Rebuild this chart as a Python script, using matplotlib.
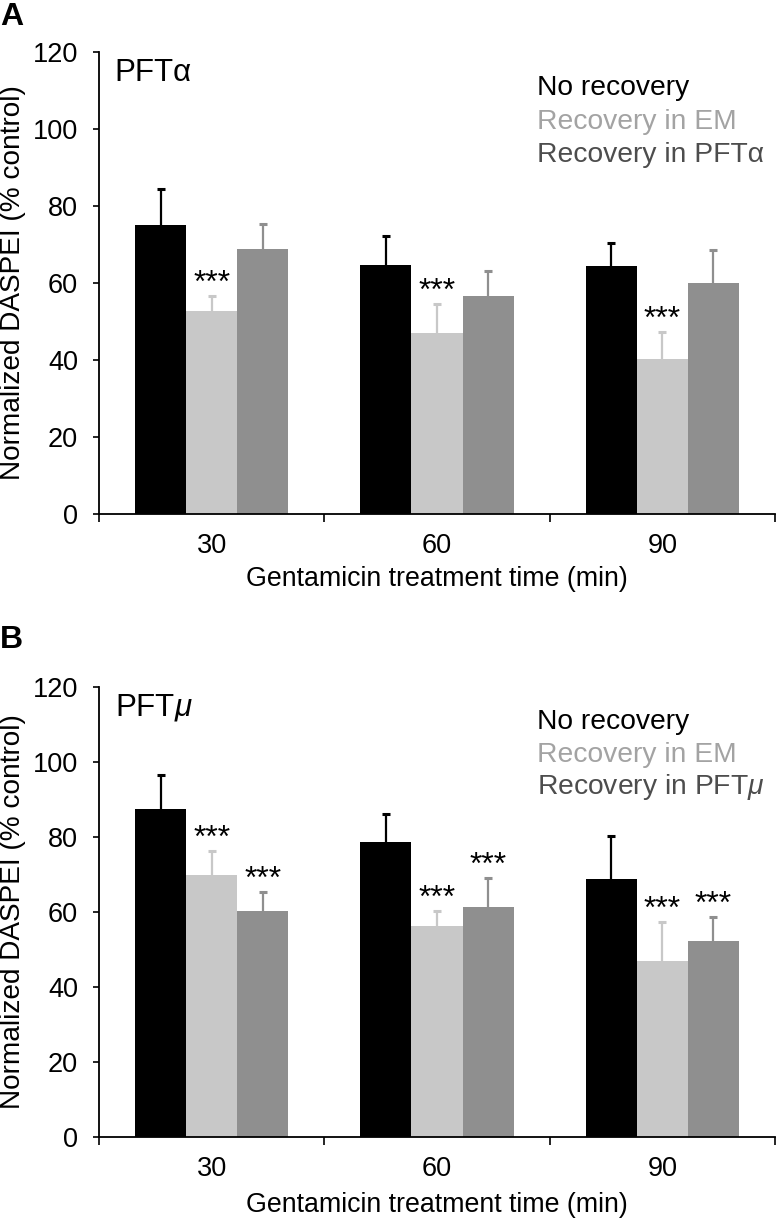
import matplotlib
matplotlib.use('Agg')
import matplotlib.pyplot as plt
import numpy as np

plt.rcParams['font.family'] = ['Liberation Sans', 'DejaVu Sans']
plt.rcParams['mathtext.fontset'] = 'custom'
plt.rcParams['mathtext.rm'] = 'Liberation Sans'
plt.rcParams['mathtext.it'] = 'Liberation Sans:italic'

# data
times = ['30', '60', '90']

labels_a = ['No recovery', 'Recovery in EM', 'Recovery in PFTα']
means_a = [[75.0, 64.7, 64.4],
           [52.6, 47.0, 40.3],
           [68.8, 56.6, 60.0]]
errs_a = [[9.4, 7.5, 6.0],
          [4.1, 7.5, 7.0],
          [6.5, 6.5, 8.6]]
sig_a = [[0, 0, 0],
         [1, 1, 1],
         [0, 0, 0]]

labels_b = ['No recovery', 'Recovery in EM', r'Recovery in PFT$\mu$']
means_b = [[87.5, 78.7, 68.8],
           [69.9, 56.3, 47.0],
           [60.3, 61.3, 52.3]]
errs_b = [[9.0, 7.4, 11.5],
          [6.4, 4.0, 10.3],
          [5.0, 7.8, 6.4]]
sig_b = [[0, 0, 0],
         [1, 1, 1],
         [1, 1, 1]]

bar_colors = ['#000000', '#c8c8c8', '#8f8f8f']
text_colors = ['#000000', '#a3a3a3', '#4d4d4d']

W, H = 776, 1222
fig = plt.figure(figsize=(W / 100, H / 100), dpi=100)


def panel(rect, means, errs, sig, labels, title, letter, letter_y, xlab_y):
    ax = fig.add_axes(rect)
    x = np.arange(len(times))
    bw = 0.227
    for i in range(3):
        pos = x + (i - 1) * bw
        ax.bar(pos, means[i], bw, color=bar_colors[i], zorder=2)
        eb = ax.errorbar(pos, means[i], yerr=[np.zeros(3), errs[i]], fmt='none',
                         ecolor=bar_colors[i], elinewidth=1.6, capsize=2.8,
                         capthick=2.2, zorder=1)
        eb[1][0].set_visible(False)  # no cap at the bar top
        for j in range(3):
            if sig[i][j]:
                ax.annotate('***', (pos[j], means[i][j] + errs[i][j]),
                            xytext=(0, 3), textcoords='offset points',
                            ha='center', va='baseline', fontsize=23)
    ax.set_xlim(-0.5, 2.5)
    ax.set_ylim(0, 120)
    ax.set_yticks(np.arange(0, 121, 20))
    ax.set_xticks([-0.5, 0.5, 1.5, 2.5])
    ax.set_xticklabels([])
    ax.set_xticks(x, minor=True)
    ax.set_xticklabels(times, minor=True)
    ax.tick_params(axis='x', which='major', length=6, width=1.2, direction='out')
    ax.tick_params(axis='x', which='minor', length=0, pad=14, labelsize=19.5)
    ax.tick_params(axis='y', length=4, width=1.2, pad=11, labelsize=19.5)
    for s in ['top', 'right']:
        ax.spines[s].set_visible(False)
    for s in ['left', 'bottom']:
        ax.spines[s].set_linewidth(1.3)
    ax.set_ylabel('Normalized DASPEI (% control)', fontsize=20.2)
    ax.yaxis.set_label_coords(-0.108, 0.5)
    ax.set_xlabel('Gentamicin treatment time (min)', fontsize=19.3)
    ax.xaxis.set_label_coords(0.5, xlab_y)
    ax.text(0.023, 0.955, title, transform=ax.transAxes, fontsize=22.5,
            ha='left', va='center')
    for k, lab in enumerate(labels):
        ax.text(0.648, 0.922 - k * 0.0725, lab, transform=ax.transAxes,
                fontsize=20.3, color=text_colors[k], ha='left', va='center')
    fig.text(0.0, letter_y, letter, fontsize=23, fontweight='bold',
             ha='left', va='top')
    return ax


left = 99 / W
width = 676 / W
panel([left, 1 - 514 / H, width, 462 / H], means_a, errs_a, sig_a, labels_a,
      'PFTα', 'A', 1 - 2 / H, -0.112)
panel([left, 1 - 1137 / H, width, 450 / H], means_b, errs_b, sig_b, labels_b,
      r'PFT$\mu$', 'B', 1 - 625 / H, -0.123)

fig.savefig('out.png', dpi=100)
